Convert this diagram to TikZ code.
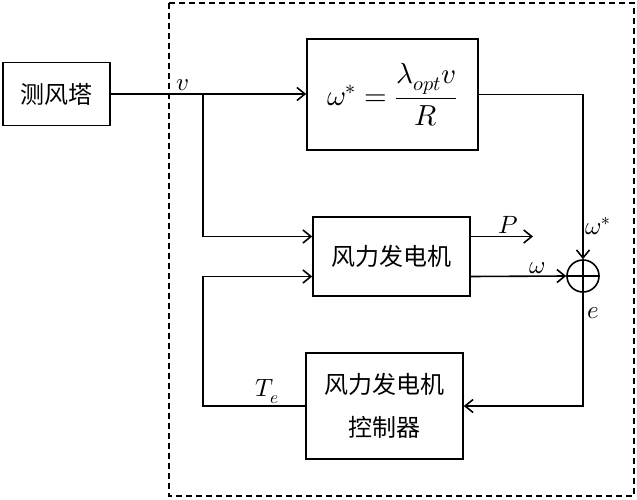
\documentclass[tikz,border=0pt]{standalone}
\usepackage{fontspec}
\usepackage{unicode-math}
\setmathfont{Latin Modern Math}
\newfontfamily\cjk{Noto Sans CJK SC}
\usetikzlibrary{
  calc,
  arrows.meta
}

\begin{document}
\begin{tikzpicture}[x=1pt,y=-1pt,line width=1.6pt,
  >={Straight Barb[length=8pt,width=13pt]},
  font=\fontsize{24}{28}\selectfont\cjk,
  blk/.style={draw,rectangle,inner sep=0pt},
  lbl/.style={inner sep=2pt,font=\fontsize{25}{28}\selectfont}
  ]
  \useasboundingbox (0,0) rectangle (637,500);
  \draw[dash pattern=on 6pt off 4pt] (169,3) rectangle (634,496);
  \node[blk,minimum width=107,minimum height=63] (tower) at (56.5,94) {测风塔};
  \node[blk,minimum width=171,minimum height=111,font=\fontsize{29}{34}\selectfont] (wstar) at (392.5,94.5)
    {$\displaystyle\omega^*=\frac{\lambda_{opt}v}{R}$};
  \node[blk,minimum width=157,minimum height=79] (gen) at (391.5,256.5) {风力发电机};
  \node[blk,minimum width=157,minimum height=106,align=center,
    font=\fontsize{24}{43}\selectfont\cjk] (ctrl) at (384.5,406) {风力发电机\\控制器};
  \node[draw,circle,minimum size=32,inner sep=0pt] (sum) at (583,276) {};
  \draw (sum.north) -- (sum.south) (sum.west) -- (sum.east);
  \coordinate (br) at (203,94);
  \coordinate (pout) at (533,236.5);
  \draw[->] (tower.east) -- node[lbl,pos=0.37,above]{$v$} (tower.east -| wstar.west);
  \draw[->] (br) |- ([yshift=20pt]gen.west);
  \draw[->] (ctrl.west) -- node[lbl,pos=0.37,above]{$T_e$} (ctrl.west -| br)
    |- ([yshift=-20pt]gen.west);
  \draw[->] ([yshift=20pt]gen.east) -- node[lbl,pos=0.6,above]{$P$} (pout);
  \draw[->] ([yshift=-20pt]gen.east) -- node[lbl,pos=0.7,above]{$\omega$} (sum.west);
  \draw[->] (wstar.east) -| node[lbl,pos=0.9,right]{$\omega^*$} (sum.north);
  \draw[->] (sum.south) |- node[lbl,pos=0.09,right,xshift=2pt]{$e$} (ctrl.east);
\end{tikzpicture}
\end{document}
